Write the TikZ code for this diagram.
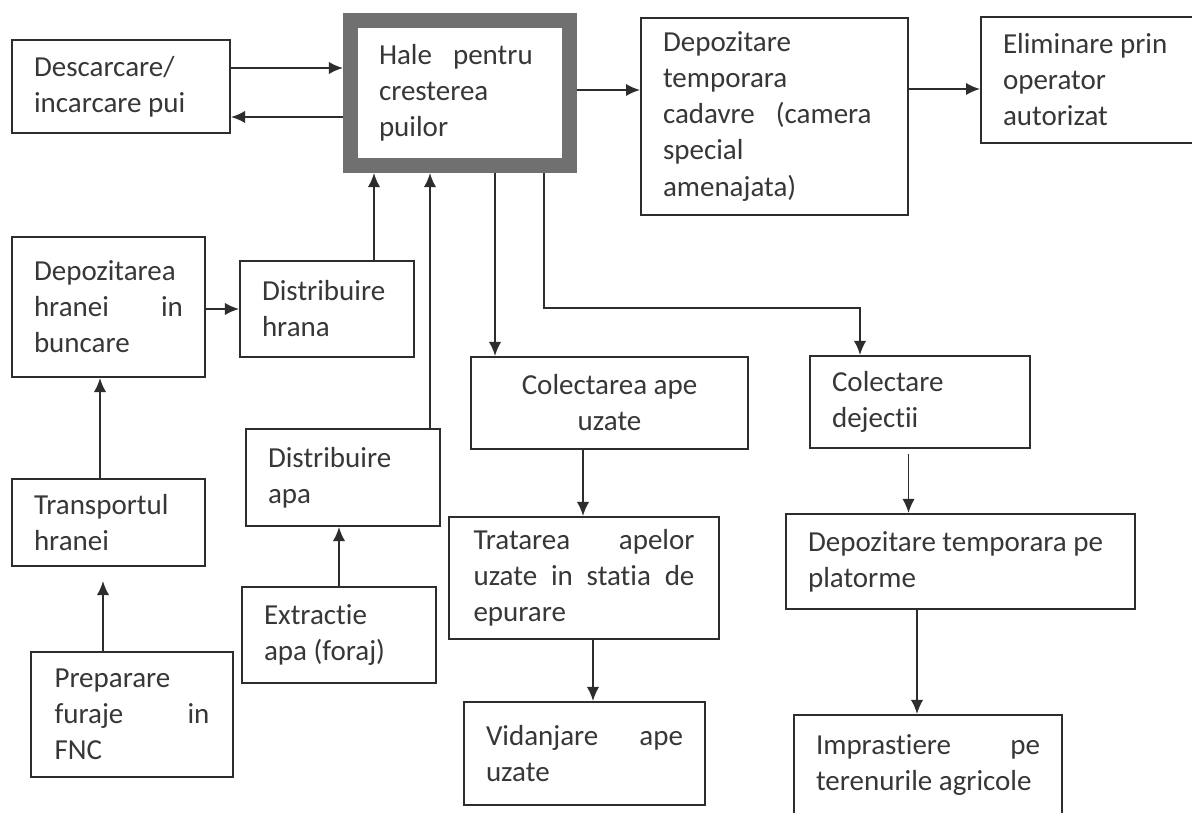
\documentclass[tikz,border=0pt]{standalone}
\usepackage{fontspec}
\setmainfont{Carlito}[Ligatures=NoCommon]
\usepackage{tikz}
\usetikzlibrary{arrows.meta}

\definecolor{linegray}{RGB}{45,45,45}
\definecolor{textgray}{RGB}{55,55,55}
\definecolor{framegray}{RGB}{112,112,112}
\newcommand{\jsp}{\hskip 0pt plus 1fill\relax}

\begin{document}
\begin{tikzpicture}[->,>={Latex[length=8pt,width=7pt]},x=0.02cm,y=-0.02cm,
                    line width=1.1pt,color=linegray]
  \tikzstyle{box}=[rectangle,draw=linegray,fill=white,text=textgray,inner sep=0pt,
                   align=flush left,font=\fontsize{16.5}{20.5}\selectfont]
  \useasboundingbox[fill=white] (0,0) rectangle (1192,813);

  \node[box,minimum width=4.36cm,minimum height=1.86cm,text width=3.48cm]	(A) at (121,86.5)	{Descarcare/\\incarcare pui};
  \node[box,draw=framegray,line width=0.3cm,minimum width=4.38cm,minimum height=2.9cm,
        text width=3.24cm]	(B) at (460,93)	{Hale \enspace pentru\\cresterea\\puilor};
  \node[box,minimum width=5.34cm,minimum height=3.94cm,text width=4.46cm]	(C) at (774.5,116.5)	{Depozitare\\temporara\\cadavre \enspace(camera\\special\\amenajata)};
  \node[box,minimum width=4.48cm,minimum height=2.52cm,text width=3.6cm]	(D) at (1093,80)	{Eliminare prin\\operator\\autorizat};
  \node[box,minimum width=3.86cm,minimum height=2.8cm,text width=2.98cm]	(E) at (108.5,307)	{Depozitarea\\hranei\jsp in\\buncare};
  \node[box,minimum width=3.48cm,minimum height=1.92cm,text width=2.6cm]	(F) at (327,309)	{Distribuire\\hrana};
  \node[box,minimum width=3.86cm,minimum height=1.74cm,text width=2.98cm]	(G) at (108.5,522.5)	{Transportul\\hranei};
  \node[box,minimum width=4.04cm,minimum height=2.5cm,text width=3.1cm]	(H) at (132,714.5)	{Preparare\\furaje\jsp in\\FNC};
  \node[box,minimum width=3.88cm,minimum height=1.94cm,text width=3cm]	(I) at (343,477.5)	{Distribuire\\apa};
  \node[box,minimum width=3.88cm,minimum height=1.92cm,text width=3cm]	(J) at (339,635)	{Extractie\\apa (foraj)};
  \node[box,align=flush center,minimum width=5.54cm,minimum height=1.84cm,text width=4.66cm]	(K) at (609.5,403)	{Colectarea ape\\uzate};
  \node[box,minimum width=4.4cm,minimum height=1.84cm,text width=3.52cm]	(L) at (920,402)	{Colectare\\dejectii};
  \node[box,minimum width=5.41cm,minimum height=2.44cm,text width=4.42cm]	(M) at (584,578)	{Tratarea\jsp apelor\\uzate\jsp in\jsp statia\jsp de\\epurare};
  \node[box,minimum width=4.82cm,minimum height=2.06cm,text width=3.94cm]	(N) at (584.5,753.5)	{Vidanjare\jsp ape\\uzate};
  \node[box,minimum width=6.98cm,minimum height=1.9cm,text width=6.1cm]	(O) at (960.5,561.5)	{Depozitare temporara pe\\platorme};
  \node[box,minimum width=5.36cm,minimum height=2cm,text width=4.48cm]	(P) at (928,765)	{Imprastiere\jsp pe\\terenurile agricole};

  \path ([yshift=0.37cm]A.east) edge ([yshift=0.37cm]A.east -| B.west)
        ([yshift=-0.61cm]A.east -| B.west) edge ([yshift=-0.61cm]A.east)
        ([yshift=0.06cm]B.east) edge ([yshift=0.06cm]B.east -| C.west)
        ([yshift=-0.18cm]D.west -| C.east) edge ([yshift=-0.18cm]D.west)
        (F.west -| E.east) edge (F.west)
        ([xshift=0.94cm]F.north) edge ([xshift=0.94cm]F.north |- B.south)
        ([xshift=1.74cm]I.north) edge ([xshift=1.74cm]I.north |- B.south)
        ([xshift=-2.29cm]K.north |- B.south) edge ([xshift=-2.29cm]K.north)
        ([xshift=-0.53cm]K.south) edge ([xshift=-0.53cm]K.south |- M.north)
        ([xshift=0.18cm]M.south) edge ([xshift=0.18cm]M.south |- N.north)
        ([xshift=-0.23cm]L.south) edge[shorten <=0.1cm] ([xshift=-0.23cm]L.south |- O.north)
        ([xshift=-0.87cm]O.south) edge ([xshift=-0.87cm]O.south |- P.north)
        ([xshift=-0.17cm]G.north) edge ([xshift=-0.17cm]G.north |- E.south)
        ([xshift=-0.58cm]H.north) edge[shorten >=0.28cm] ([xshift=-0.58cm]H.north |- G.south)
        (J.north) edge (J.north |- I.south);
  \draw ([xshift=1.68cm]B.south) |- ([xshift=-1.2cm,yshift=0.94cm]L.north) -- ([xshift=-1.2cm]L.north);
\end{tikzpicture}
\end{document}
